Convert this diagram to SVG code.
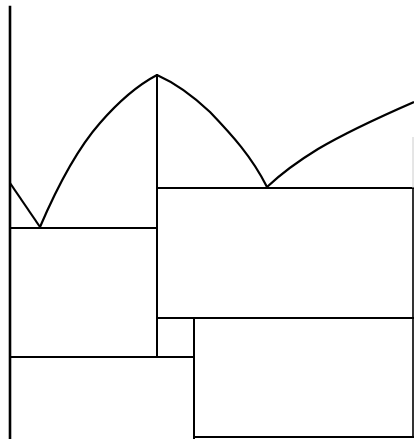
<svg xmlns="http://www.w3.org/2000/svg" width="414" height="439" viewBox="0 0 414 439">
<style>
.l{stroke:#000;stroke-width:2;fill:none;stroke-linecap:square}
.c{stroke:#000;stroke-width:2.2;fill:none;stroke-linejoin:round}
</style>
<rect width="414" height="439" fill="#fff"/>
<g id="outline">
<line class="l" x1="10" y1="7" x2="10" y2="439" style="stroke-width:2.6"/>
<line class="l" x1="10" y1="228" x2="157" y2="228"/>
<line class="l" x1="157" y1="75" x2="157" y2="356"/>
<line class="l" x1="157" y1="188" x2="413" y2="188"/>
<line class="l" x1="413" y1="188" x2="413" y2="437" style="stroke-width:1.6"/>
<line x1="413" y1="137" x2="413" y2="188" stroke="#ccc" stroke-width="1"/>
<line class="l" x1="157" y1="318" x2="413" y2="318"/>
<line class="l" x1="10" y1="357" x2="194" y2="357"/>
<line class="l" x1="194" y1="319" x2="194" y2="439"/>
<line class="l" x1="194" y1="437" x2="413" y2="437"/>
</g>
<g id="curves">
<path class="c" d="M10,183 L40,227"/>
<path class="c" d="M40,227 C58,185 78,148 100,123 C120,100 138,85 157,75"/>
<path class="c" d="M157,75 C175,83 192,95 210,112 C232,135 252,157 267,187"/>
<path class="c" d="M267,187 C285,170 300,160 318,149 C345,133 375,119 414,102"/>
</g>
</svg>
